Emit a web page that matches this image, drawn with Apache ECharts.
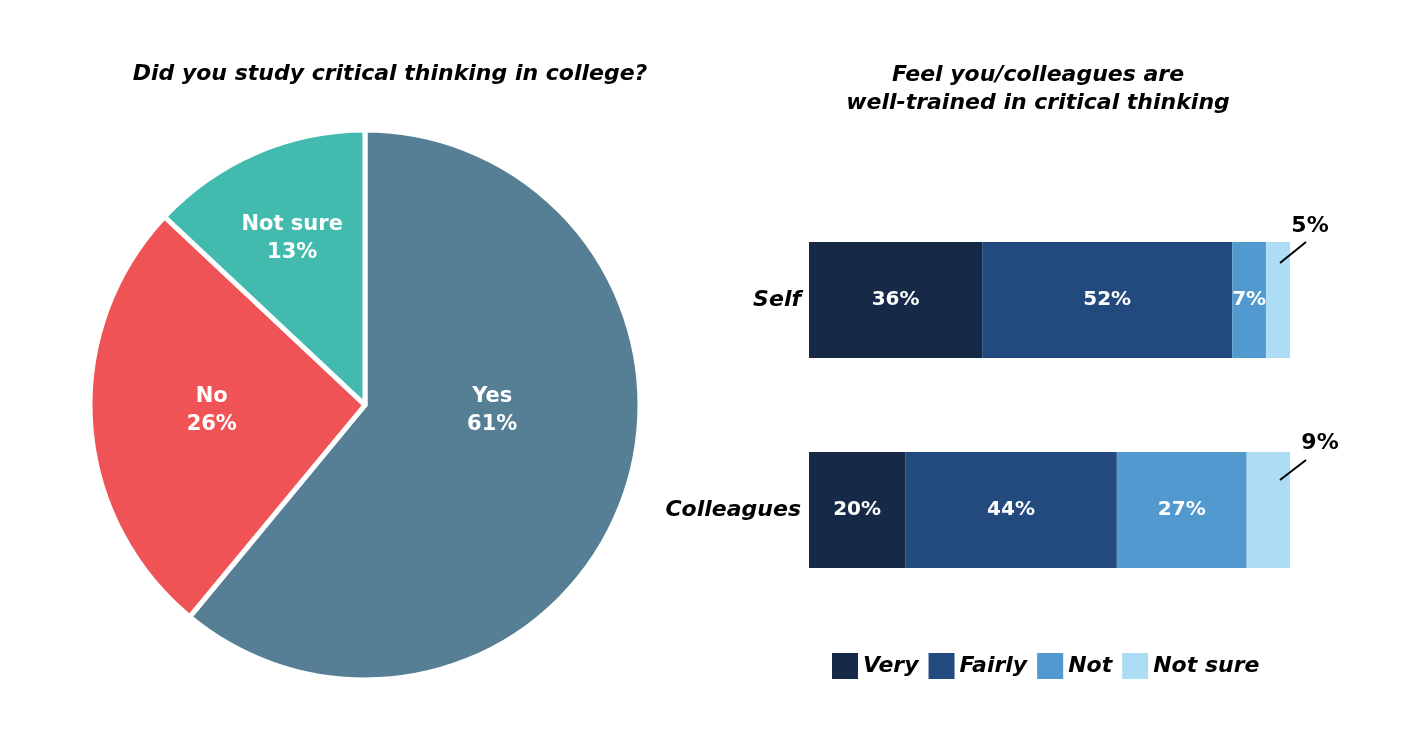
<!DOCTYPE html>
<html><head><meta charset="utf-8">
<script src="https://cdn.jsdelivr.net/npm/echarts@6/dist/echarts.min.js"></script>
<style>html,body{margin:0;padding:0;background:#fff}#c{width:1419px;height:744px}</style>
</head><body><div id="c"></div>
<script>
const pieNames = ['Yes', 'No', 'Not sure'];
const pieValues = [61, 26, 13];
const barCategories = ['Self', 'Colleagues'];
const seriesNames = ['Very', 'Fairly', 'Not', 'Not sure'];
const veryVals = [36, 20];
const fairlyVals = [52, 44];
const notVals = [7, 27];
const notSureVals = [5, 9];

const FONT = '"DejaVu Sans", sans-serif';
const pieColors = ['#567F96', '#F05355', '#42BBAE'];
const barColors = ['#162A47', '#224A7E', '#5199CE', '#ADDCF5'];
const pieLabelShift = [[-5, -42], [-13, -3], [-17, -38]];
const annShape = [
  { line: [[-10, 21], [16, 0]], text: [20, -16] },
  { line: [[-10, 28], [16, 8]], text: [30, -9] }
];

const chart = echarts.init(document.getElementById('c'));
const barVals = [veryVals, fairlyVals, notVals, notSureVals];

const option = {
  animation: false,
  title: [
    { text: 'Did you study critical thinking in college?', left: 385, top: 58, textAlign: 'center',
      textStyle: { fontFamily: FONT, fontSize: 22, fontWeight: 'bold', fontStyle: 'italic', color: '#000' } },
    { text: 'Feel you/colleagues are\nwell-trained in critical thinking', left: 1033, top: 56, textAlign: 'center',
      textStyle: { fontFamily: FONT, fontSize: 22, fontWeight: 'bold', fontStyle: 'italic', color: '#000', lineHeight: 28 } }
  ],
  legend: {
    data: seriesNames, left: 827, top: 648, itemWidth: 26, itemHeight: 26, itemGap: 10,
    icon: 'rect',
    textStyle: { fontFamily: FONT, fontSize: 22, fontWeight: 'bold', fontStyle: 'italic', color: '#000' }
  },
  grid: { left: 809, right: 129, top: 195, height: 420 },
  xAxis: { type: 'value', min: 0, max: 100, show: false },
  yAxis: {
    type: 'category', data: barCategories, inverse: true,
    axisLine: { show: false }, axisTick: { show: false },
    axisLabel: { fontFamily: FONT, fontSize: 22, fontWeight: 'bold', fontStyle: 'italic', color: '#000', margin: 8 }
  },
  series: [
    {
      type: 'pie', center: [365, 405], radius: 275, startAngle: 90, clockwise: true,
      data: pieNames.map((n, i) => ({ name: n, value: pieValues[i], itemStyle: { color: pieColors[i] } })),
      itemStyle: { borderColor: '#fff', borderWidth: 5 },
      label: { position: 'inside', formatter: '{b}\n{c}%', color: '#fff', fontFamily: FONT, fontSize: 21, fontWeight: 'bold', lineHeight: 28 },
      labelLayout: p => ({ dx: pieLabelShift[p.dataIndex][0], dy: pieLabelShift[p.dataIndex][1] }),
      emphasis: { disabled: true }
    }
  ].concat(seriesNames.map((n, si) => ({
    type: 'bar', name: n, stack: 'a', barWidth: 116,
    itemStyle: { color: barColors[si] },
    data: barVals[si],
    label: si < 3 ? { show: true, position: 'inside', formatter: '{c}%', color: '#fff', fontFamily: FONT, fontSize: 20, fontWeight: 'bold' }
                  : { show: false },
    emphasis: { disabled: true }
  }))).concat([{
    type: 'custom', z: 10, silent: true,
    data: barCategories.map((c, i) => [100, c, notSureVals[i], i]),
    renderItem: (params, api) => {
      const p = api.coord([api.value(0), api.value(1)]);
      const top = p[1] - 58;
      const a = annShape[params.dataIndex];
      return {
        type: 'group', children: [
          { type: 'line', shape: { x1: p[0] + a.line[0][0], y1: top + a.line[0][1], x2: p[0] + a.line[1][0], y2: top + a.line[1][1] },
            style: { stroke: '#000', lineWidth: 2 } },
          { type: 'text', x: p[0] + a.text[0], y: top + a.text[1],
            style: { text: api.value(2) + '%', fill: '#000', font: 'bold 22px ' + FONT, textAlign: 'center', textVerticalAlign: 'middle' } }
        ]
      };
    }
  }])
};
chart.setOption(option);
</script>
</body></html>
